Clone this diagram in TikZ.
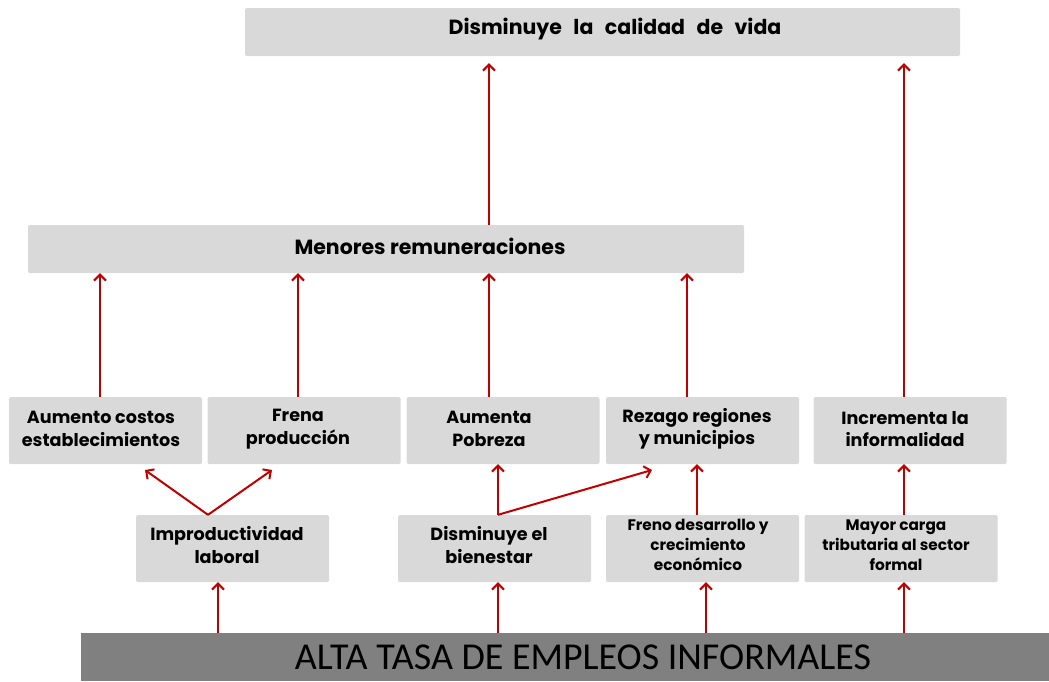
\documentclass[tikz,border=0pt]{standalone}
\usepackage{fontspec}
\setmainfont{Poppins}
\newfontfamily\calib{Carlito}
\usetikzlibrary{arrows.meta}
\definecolor{boxgray}{HTML}{D9D9D9}
\definecolor{bargray}{HTML}{808080}
\definecolor{arrred}{HTML}{C00000}
\begin{document}
\begin{tikzpicture}[x=1pt,y=-1pt,
  box/.style={fill=boxgray, rounded corners=1.5pt, inner sep=0pt, draw=none},
  rowbox/.style={box, minimum width=193pt, minimum height=67pt},
  txt/.style={font=\bfseries\fontsize{17.6}{22.5}\selectfont, align=center, inner sep=0pt},
  smalltxt/.style={font=\bfseries\fontsize{15.3}{20}\selectfont, align=center, inner sep=0pt},
  bigtxt/.style={font=\bfseries\fontsize{20.5}{24}\selectfont, inner sep=0pt},
  arr/.style={draw=arrred, line width=2pt, -{Straight Barb[length=6pt,width=12pt,line width=2pt]}}
]
\useasboundingbox (0,0) rectangle (1049,681);

% boxes
\node[box, minimum width=715pt, minimum height=48pt] (top) at (602.5,32) {};
\node[bigtxt] (toptxt) at (615,29) {Disminuye\hspace{11.5pt}la\hspace{11.5pt}calidad\hspace{11.5pt}de\hspace{11.5pt}vida};
\node[box, minimum width=716pt, minimum height=48pt] (men) at (386,249) {};
\node[bigtxt] (mentxt) at (430,246) {Menores remuneraciones};

\node[rowbox] (r1) at (105.5,430.5) {};
\node[rowbox] (r2) at (304,430.5) {};
\node[rowbox] (r3) at (503,430.5) {};
\node[rowbox] (r4) at (702.5,430.5) {};
\node[rowbox] (r5) at (910,430.5) {};
\node[txt] (t1) at (101,429) {Aumento costos\\establecimientos};
\node[txt] (t2) at (298,429) {Frena\\producción};
\node[txt] (t3) at (489,429) {Aumenta\\Pobreza};
\node[txt] (t4) at (697,429) {Rezago regiones\\y municipios};
\node[txt] (t5) at (905,429) {Incrementa la\\informalidad};

\node[rowbox] (q1) at (232.5,548.5) {};
\node[rowbox] (q2) at (494.5,548.5) {};
\node[rowbox] (q3) at (702.5,548.5) {};
\node[rowbox] (q4) at (901,548.5) {};
\node[txt] (u1) at (227,545) {Improductividad\\laboral};
\node[txt] (u2) at (489,545) {Disminuye el\\bienestar};
\node[smalltxt] (u3) at (698,545) {Freno desarrollo y\\crecimiento\\económico};
\node[smalltxt] (u4) at (896,545) {Mayor carga\\tributaria al sector\\formal};

\node[fill=bargray, minimum width=968pt, minimum height=48pt, inner sep=0pt] (bar) at (565,657) {};
\node[font=\calib\fontsize{38}{42}\selectfont, inner sep=0pt] (bartxt) at (583,657) {ALTA TASA DE EMPLEOS INFORMALES};

% connector coordinates
\coordinate (xa) at (489,0);
\coordinate (xb) at (904,0);
\coordinate (x1) at (100,0);
\coordinate (x2) at (298,0);
\coordinate (x4) at (687,0);
\coordinate (xf) at (697,0);
\coordinate (xi) at (208,0);
\coordinate (xd) at (498,0);
\coordinate (b1) at (218,0);
\coordinate (b3) at (706,0);
\coordinate (ia) at (145,470);
\coordinate (ib) at (272,470);
\coordinate (dz) at (652,470);

% arrows
\draw[arr, shorten >=7pt] (men.north -| xa) -- (top.south -| xa);
\draw[arr, shorten >=7pt] (r5.north -| xb) -- (top.south -| xb);
\draw[arr] (r1.north -| x1) -- (men.south -| x1);
\draw[arr] (r2.north -| x2) -- (men.south -| x2);
\draw[arr] (r3.north -| xa) -- (men.south -| xa);
\draw[arr] (r4.north -| x4) -- (men.south -| x4);

\draw[arr] (q1.north -| xi) -- (ia);
\draw[arr] (q1.north -| xi) -- (ib);
\draw[arr] (q2.north -| xd) -- (r3.south -| xd);
\draw[arr] (q2.north -| xd) -- (dz);
\draw[arr] (q3.north -| xf) -- (r4.south -| xf);
\draw[arr] (q4.north -| xb) -- (r5.south -| xb);

\draw[arr] (bar.north -| b1) -- (q1.south -| b1);
\draw[arr] (bar.north -| xd) -- (q2.south -| xd);
\draw[arr] (bar.north -| b3) -- (q3.south -| b3);
\draw[arr] (bar.north -| xb) -- (q4.south -| xb);
\end{tikzpicture}
\end{document}
